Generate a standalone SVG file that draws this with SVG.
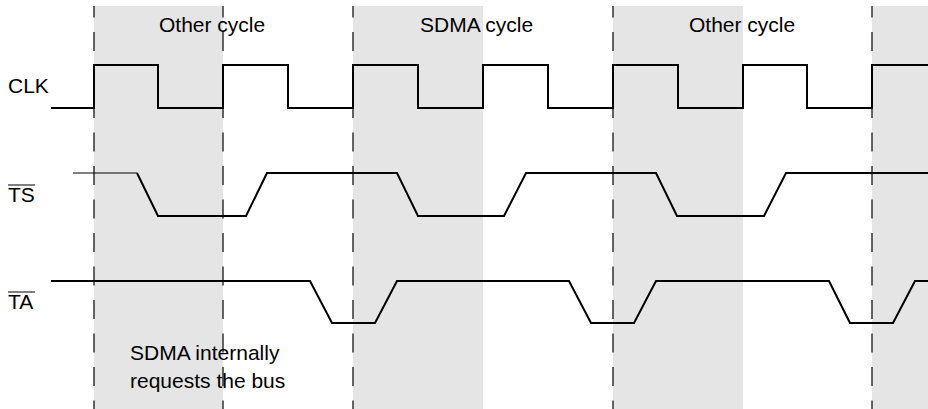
<svg xmlns="http://www.w3.org/2000/svg" width="928" height="409" viewBox="0 0 928 409">
<style>
.shade{fill:#e5e5e5;stroke:none}
.dash{stroke:#333;stroke-width:1.5;stroke-dasharray:19 14.5;stroke-dashoffset:7.5;fill:none}
.wave{stroke:#000;stroke-width:2;fill:none;stroke-linejoin:miter}
.thin{stroke:#000;stroke-width:1;fill:none}
.lbl{font-family:"Liberation Sans",Arial,Helvetica,sans-serif;font-size:21px;fill:#000}
</style>
<rect width="928" height="409" fill="#fff"/>
<g id="shading">
<rect class="shade" x="94" y="6" width="129" height="403"/>
<rect class="shade" x="353" y="6" width="130" height="403"/>
<rect class="shade" x="613" y="6" width="130" height="403"/>
<rect class="shade" x="872" y="6" width="56" height="403"/>
</g>
<g id="cycle-labels">
<text class="lbl" x="159" y="32">Other cycle</text>
<text class="lbl" x="420" y="32">SDMA cycle</text>
<text class="lbl" x="689" y="32">Other cycle</text>
</g>
<g id="grid">
<line class="dash" x1="94" y1="6" x2="94" y2="409"/>
<line class="dash" x1="223" y1="6" x2="223" y2="409"/>
<line class="dash" x1="353" y1="6" x2="353" y2="409"/>
<line class="dash" x1="613" y1="6" x2="613" y2="409"/>
<line class="dash" x1="872" y1="6" x2="872" y2="409"/>
</g>
<g id="clk">
<text class="lbl" x="8" y="93">CLK</text>
<path class="wave" d="M51,108 H94 V65 H158 V108 H223 V65 H288 V108 H353 V65 H418 V108 H483 V65 H548 V108 H613 V65 H678 V108 H743 V65 H807 V108 H872 V65 H928"/>
</g>
<g id="ts">
<text class="lbl" x="8" y="202">TS</text>
<line class="thin" x1="8" y1="185" x2="35" y2="185"/>
<line class="thin" x1="73" y1="173" x2="137" y2="173"/>
<path class="wave" d="M137,173 L158,216 H246 L267,173 H397 L418,216 H504 L526,173 H656 L677,216 H764 L786,173 H928"/>
</g>
<g id="ta">
<text class="lbl" x="8" y="309">TA</text>
<line class="thin" x1="8" y1="292" x2="35" y2="292"/>
<path class="wave" d="M51,281 H310 L332,323 H375 L397,281 H569 L591,323 H634 L656,281 H829 L850,323 H893 L915,281 H928"/>
</g>
<g id="note">
<text class="lbl" x="130" y="360">SDMA internally</text>
<text class="lbl" x="130" y="388">requests the bus</text>
</g>
</svg>
